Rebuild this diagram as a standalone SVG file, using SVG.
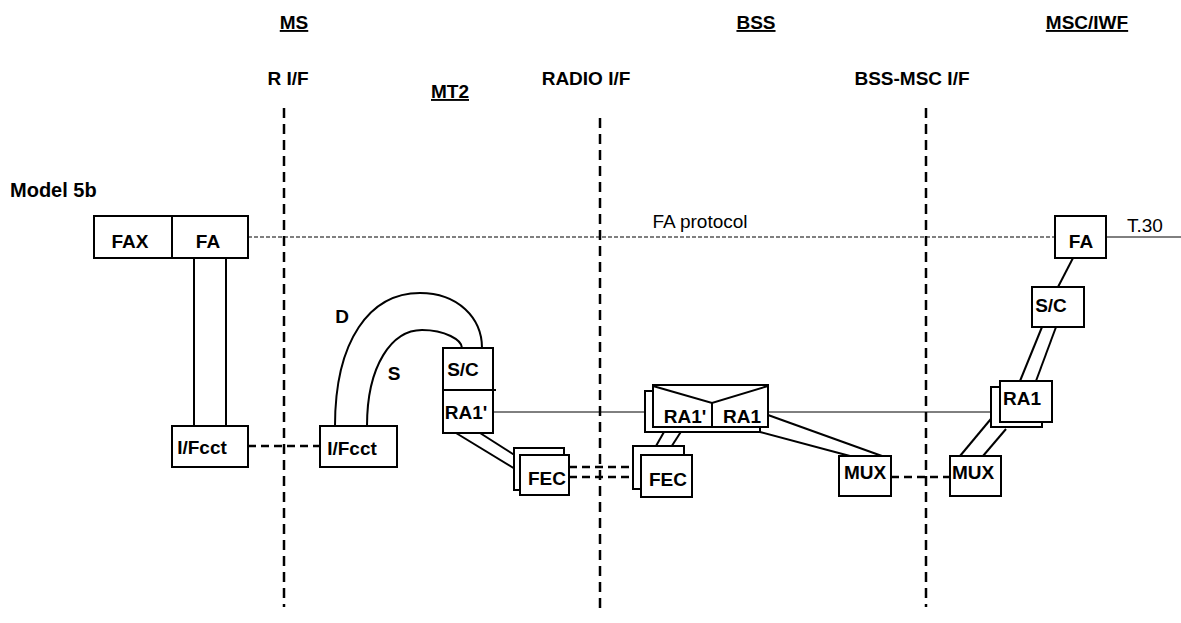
<svg xmlns="http://www.w3.org/2000/svg" width="1181" height="623" viewBox="0 0 1181 623">
<style>
  .box { fill: #fff; stroke: #000; stroke-width: 2; }
  .ln { fill: none; stroke: #000; stroke-width: 2; }
  .thin { fill: none; stroke: #000; stroke-width: 1; }
  .vdash { fill: none; stroke: #000; stroke-width: 2.5; stroke-dasharray: 10 6; }
  .hdash { fill: none; stroke: #000; stroke-width: 2.5; stroke-dasharray: 8 5; }
  .pdash { fill: none; stroke: #000; stroke-width: 1; stroke-dasharray: 4 2; }
  text { font-family: "Liberation Sans", Arial, sans-serif; fill: #000; }
  .lbl { font-size: 19px; font-weight: bold; text-anchor: middle; }
  .hdr { font-size: 19px; font-weight: bold; text-anchor: middle; }
  .ul { text-decoration: underline; }
  .nrm { font-size: 19px; }
</style>

<g id="headers">
  <text class="hdr ul" x="294" y="29">MS</text>
  <text class="hdr ul" x="756" y="29">BSS</text>
  <text class="hdr ul" x="1087" y="29">MSC/IWF</text>
  <text class="hdr" x="288" y="85">R I/F</text>
  <text class="hdr ul" x="450" y="98">MT2</text>
  <text class="hdr" x="586" y="85">RADIO I/F</text>
  <text class="hdr" x="912" y="85">BSS-MSC I/F</text>
  <text x="10" y="197" style="font-size:20px;font-weight:bold">Model 5b</text>
</g>

<g id="interfaces">
  <line class="vdash" x1="284" y1="108" x2="284" y2="607"/>
  <line class="vdash" x1="600" y1="118" x2="600" y2="612"/>
  <line class="vdash" x1="926" y1="108" x2="926" y2="607"/>
</g>

<g id="connectors">
  <line class="pdash" x1="248" y1="237" x2="1055" y2="237"/>
  <text class="nrm" x="700" y="228" text-anchor="middle">FA protocol</text>
  <line class="thin" x1="1106" y1="237" x2="1181" y2="237"/>
  <text class="nrm" x="1127" y="232">T.30</text>
  <line class="ln" x1="194" y1="258" x2="194" y2="426"/>
  <line class="ln" x1="226" y1="258" x2="226" y2="426"/>
  <line class="hdash" x1="248" y1="446" x2="320" y2="446"/>
  <path class="ln" d="M335,426 C335,340 370,293 420,293 C458,293 482,318 482,348"/>
  <path class="ln" d="M367,426 C367,365 392,330 422,330 C445,330 462,340 462,348"/>
  <text class="lbl" x="342" y="323">D</text>
  <text class="lbl" x="394" y="380">S</text>
  <line class="thin" x1="493" y1="412" x2="645" y2="412"/>
  <line class="thin" x1="768" y1="412" x2="991" y2="412"/>
  <line class="ln" x1="456" y1="433" x2="520" y2="472"/>
  <line class="ln" x1="480" y1="433" x2="516" y2="456"/>
  <line class="hdash" x1="569" y1="467" x2="633" y2="467"/>
  <line class="hdash" x1="569" y1="477" x2="641" y2="477"/>
  <line class="ln" x1="684" y1="427" x2="666" y2="455"/>
  <line class="ln" x1="664" y1="432" x2="656" y2="446"/>
  <line class="ln" x1="768" y1="415" x2="882" y2="456"/>
  <line class="ln" x1="760" y1="432" x2="850" y2="456"/>
  <line class="hdash" x1="891" y1="477" x2="950" y2="477"/>
  <line class="ln" x1="960" y1="456" x2="1000" y2="408"/>
  <line class="ln" x1="983" y1="456" x2="1006" y2="429"/>
  <line class="ln" x1="1042" y1="327" x2="1020" y2="381"/>
  <line class="ln" x1="1056" y1="327" x2="1036" y2="381"/>
  <line class="ln" x1="1073" y1="258" x2="1058" y2="287"/>
</g>

<g id="ms-fax">
  <rect class="box" x="94" y="216" width="78" height="42"/>
  <text class="lbl" x="130" y="248">FAX</text>
</g>
<g id="ms-fa">
  <rect class="box" x="172" y="216" width="76" height="42"/>
  <text class="lbl" x="208" y="248">FA</text>
</g>
<g id="ms-ifcct">
  <rect class="box" x="172" y="426" width="76" height="41"/>
  <text class="lbl" x="202" y="454">I/Fcct</text>
</g>
<g id="mt2-ifcct">
  <rect class="box" x="320" y="426" width="77" height="41"/>
  <text class="lbl" x="352" y="455">I/Fcct</text>
</g>
<g id="mt2-sc">
  <rect class="box" x="443" y="348" width="50" height="42"/>
  <line class="ln" x1="443" y1="390" x2="496" y2="390"/>
  <text class="lbl" x="463" y="376">S/C</text>
</g>
<g id="mt2-ra1">
  <rect class="box" x="443" y="390" width="50" height="43"/>
  <text class="lbl" x="466" y="419">RA1'</text>
</g>
<g id="mt2-fec">
  <rect class="box" x="514" y="448" width="50" height="42"/>
  <rect class="box" x="520" y="455" width="49" height="40"/>
  <text class="lbl" x="547" y="485">FEC</text>
</g>
<g id="bss-fec">
  <rect class="box" x="633" y="446" width="51" height="43"/>
  <rect class="box" x="641" y="455" width="51" height="42"/>
  <text class="lbl" x="668" y="486">FEC</text>
</g>
<g id="bss-ra1">
  <rect class="box" x="645" y="391" width="115" height="41"/>
  <rect class="box" x="653" y="385" width="115" height="42"/>
  <path class="ln" d="M653,386 L712,403 L768,386 M712,403 L712,427"/>
  <text class="lbl" x="685" y="423">RA1'</text>
  <text class="lbl" x="742" y="423">RA1</text>
</g>
<g id="bss-mux">
  <rect class="box" x="839" y="456" width="52" height="40"/>
  <text class="lbl" x="865" y="479">MUX</text>
</g>
<g id="msc-mux">
  <rect class="box" x="950" y="456" width="51" height="40"/>
  <text class="lbl" x="973" y="479">MUX</text>
</g>
<g id="msc-ra1">
  <rect class="box" x="991" y="387" width="51" height="40"/>
  <rect class="box" x="1000" y="381" width="52" height="41"/>
  <text class="lbl" x="1022" y="405">RA1</text>
</g>
<g id="msc-sc">
  <rect class="box" x="1032" y="287" width="52" height="40"/>
  <text class="lbl" x="1051" y="312">S/C</text>
</g>
<g id="msc-fa">
  <rect class="box" x="1055" y="216" width="51" height="42"/>
  <text class="lbl" x="1081" y="248">FA</text>
</g>
</svg>
